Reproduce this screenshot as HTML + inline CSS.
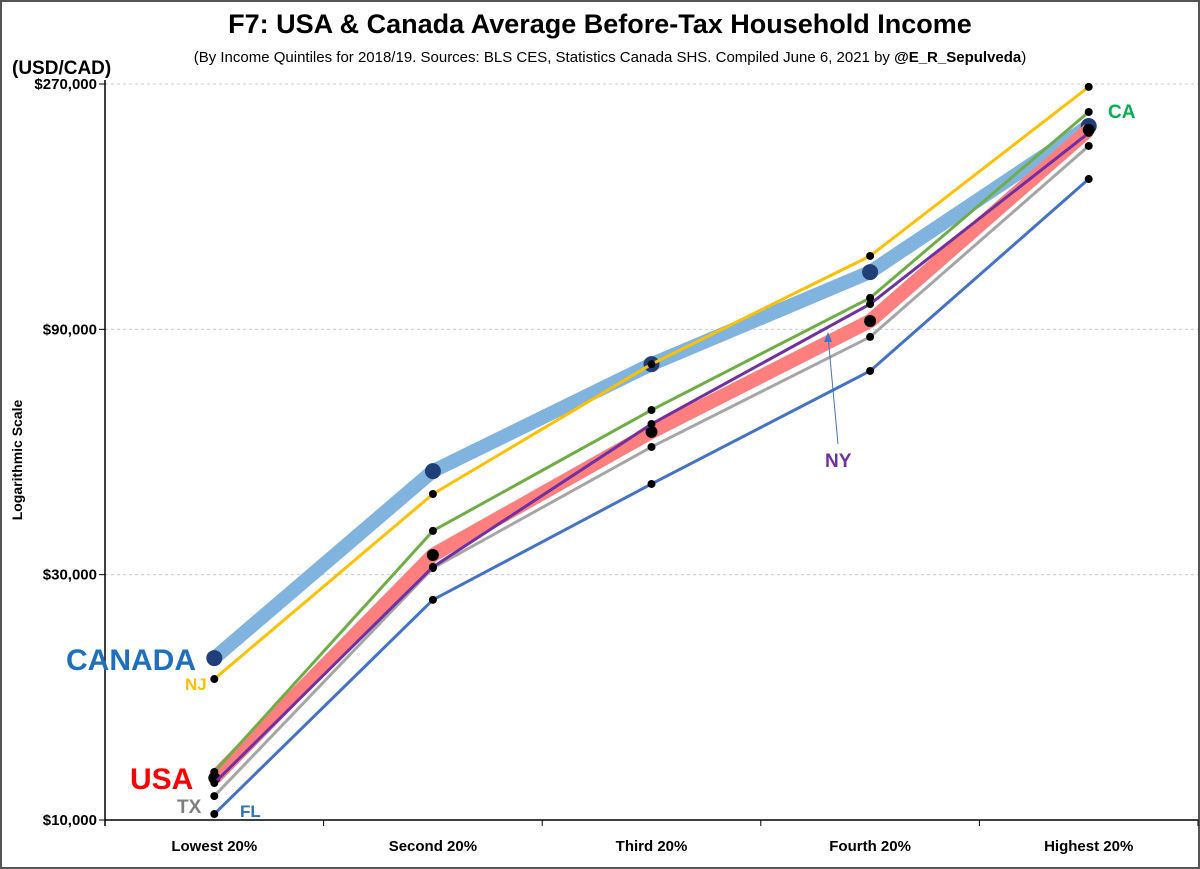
<!DOCTYPE html>
<html><head><meta charset="utf-8"><style>
body{margin:0;background:#fff;}
svg{display:block;font-family:"Liberation Sans",sans-serif;}
</style></head><body>
<svg id="chart" width="1200" height="869" viewBox="0 0 1200 869">
<rect x="1" y="1" width="1198" height="867" fill="#fff" stroke="#555" stroke-width="2"/>
<text x="600" y="33" text-anchor="middle" font-size="27" font-weight="bold">F7: USA &amp; Canada Average Before-Tax Household Income</text>
<text x="610" y="62" text-anchor="middle" font-size="15">(By Income Quintiles for 2018/19.  Sources: BLS CES, Statistics Canada SHS. Compiled June 6, 2021 by <tspan font-weight="bold">@E_R_Sepulveda</tspan>)</text>
<text x="12" y="74" font-size="19" font-weight="bold">(USD/CAD)</text>
<text transform="translate(22,460) rotate(-90)" text-anchor="middle" font-size="14" font-weight="bold">Logarithmic Scale</text>
<g id="grid"></g><g id="axes"></g><g id="series"></g><g id="labels"></g>
</svg>
<script>
const categories=["Lowest 20%","Second 20%","Third 20%","Fourth 20%","Highest 20%"];
const yTicks=[10000,30000,90000,270000];
const canada=[20650,47700,77000,116300,223700];
const usa=[12070,32760,56850,93400,219800];
const nj=[18800,43050,77000,125000,266500];
const ca=[12400,36500,62700,103600,238200];
const ny=[11800,31050,58900,100800,216900];
const tx=[11130,30900,53150,87000,204600];
const fl=[10270,26800,45030,74700,176400];

const NS="http://www.w3.org/2000/svg";
const X0=105,X1=1198,Y0=820,Y1=84,LMIN=4,LMAX=Math.log10(270000);
function xs(i){return X0+(X1-X0)*(i+0.5)/categories.length;}
function ys(v){return Y0-(Math.log10(v)-LMIN)/(LMAX-LMIN)*(Y0-Y1);}
function mk(tag,attrs,parent){const e=document.createElementNS(NS,tag);for(const k in attrs)e.setAttribute(k,attrs[k]);parent.appendChild(e);return e;}
const grid=document.getElementById('grid'),axes=document.getElementById('axes'),ser=document.getElementById('series'),lab=document.getElementById('labels');
yTicks.forEach(t=>{
  const y=ys(t);
  if(t!==10000){const g=mk('line',{x1:X0,x2:X1,y1:y,y2:y,stroke:'#ccc','stroke-dasharray':'3,3'},grid);
  
  }
  const tk=mk('line',{x1:X0-6,x2:X0,y1:y,y2:y,stroke:'#000'},axes);
  
  
  const tx_=mk('text',{x:X0-8,y:y+5,'text-anchor':'end','font-size':15,'font-weight':'bold'},axes);
  tx_.textContent='$'+t.toLocaleString('en-US');
  
  
});
const ya=mk('line',{x1:X0,x2:X0,y1:Y1-4,y2:Y0+6,stroke:'#000','stroke-width':1.5},axes);


const xa=mk('line',{x1:X0,x2:X1,y1:Y0,y2:Y0,stroke:'#000','stroke-width':1.5},axes);


for(let i=0;i<=categories.length;i++){const x=X0+(X1-X0)*i/categories.length;
  const t=mk('line',{x1:x,x2:x,y1:Y0,y2:Y0+6,stroke:'#000'},axes);
  
  }
categories.forEach((c,i)=>{const t=mk('text',{x:xs(i),y:851,'text-anchor':'middle','font-size':15,'font-weight':'bold'},axes);t.textContent=c;
  
  });
function series(name,vals,color,w,dotR,dotColor){
  const pts=vals.map((v,i)=>xs(i)+','+ys(v)).join(' ');
  const g=mk('g',{},ser);
  
  
  mk('polyline',{points:pts,fill:'none',stroke:color,'stroke-width':w,'stroke-linejoin':'round'},g);
  vals.forEach((v,i)=>{const c=mk('circle',{cx:xs(i),cy:ys(v),r:dotR,fill:dotColor},g);
    
    });
}
series('canada',canada,'#80b4de',14,8,'#203f78');
series('usa',usa,'#ff7f7f',14,6,'#000');
series('tx',tx,'#a6a6a6',3,4,'#000');
series('fl',fl,'#4472c4',3,4,'#000');
series('ny',ny,'#7030a0',3,4,'#000');
series('ca',ca,'#70ad47',3,4,'#000');
series('nj',nj,'#ffc000',3,4,'#000');
function label(txt,x,y,size,color,name){const t=mk('text',{x:x,y:y,'font-size':size,'font-weight':'bold',fill:color},lab);t.textContent=txt;
  
  }
label('CANADA',66,670,30,'#1f6fbf','canada-label');
label('NJ',185,690,17,'#ffc000','nj-label');
label('USA',130,789,30,'#ff0000','usa-label');
label('TX',177,813,19,'#7f7f7f','tx-label');
label('FL',240,817,17,'#2e75b6','fl-label');
label('CA',1108,118,19,'#00b050','ca-label');
label('NY',825,467,19,'#7030a0','ny-label');
const ar=mk('line',{x1:838,y1:444,x2:828,y2:336,stroke:'#4472c4','stroke-width':1},lab);


const ah=mk('polygon',{points:'828,332 824,342 832,342',fill:'#4472c4'},lab);


</script>
</body></html>
